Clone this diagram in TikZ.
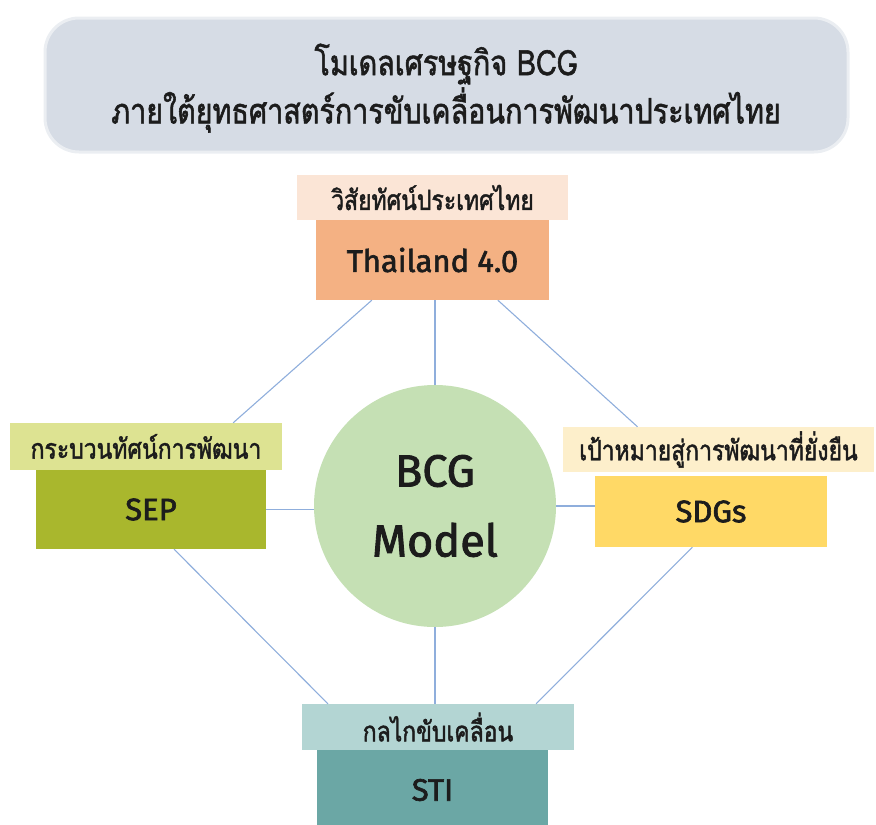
\documentclass[tikz,border=0pt]{standalone}
\usepackage{fontspec}
\setmainfont{Fira Sans}
\newfontfamily\keyfont{Fira Sans}[FakeBold=2]
\newfontfamily\thaifont[Script=Thai,FakeStretch=0.82,FakeBold=1.6]{Loma}
\usetikzlibrary{calc}

\definecolor{titlefill}{HTML}{D6DCE5}
\definecolor{titleedge}{HTML}{EBEEF2}
\definecolor{visiontag}{HTML}{FBE5D6}
\definecolor{visionfill}{HTML}{F4B183}
\definecolor{septag}{HTML}{DDE392}
\definecolor{sepfill}{HTML}{A9B72D}
\definecolor{sdgtag}{HTML}{FDEFCB}
\definecolor{sdgfill}{HTML}{FFD966}
\definecolor{stitag}{HTML}{B3D5D3}
\definecolor{stifill}{HTML}{6BA7A5}
\definecolor{corefill}{HTML}{C5E0B4}
\definecolor{linkblue}{HTML}{8FAEDC}
\definecolor{inktext}{HTML}{1C1C1C}

\begin{document}
\begin{tikzpicture}[x=1pt, y=-1pt,
	tagbox/.style={inner sep=0pt, minimum height=45pt, text=inktext,
		font=\thaifont\fontsize{28}{30}\selectfont},
	keybox/.style={inner sep=0pt, text=inktext,
		font=\keyfont\fontsize{31}{32}\selectfont},
	link/.style={draw=linkblue, line width=1.1pt}]
	\useasboundingbox (0,0) rectangle (876,825);

	% heading
	\node[draw=titleedge, line width=3pt, fill=titlefill, rounded corners=34pt,
		minimum width=803pt, minimum height=134pt] (title) at (446.5,85) {};
	\node[text=inktext, font=\thaifont\fontsize{35}{38}\selectfont] (titleA) at (446,64) {โมเดลเศรษฐกิจ BCG};
	\node[text=inktext, font=\thaifont\fontsize{35}{38}\selectfont] (titleB) at (446,110) {ภายใต้ยุทธศาสตร์การขับเคลื่อนการพัฒนาประเทศไทย};

	% centre
	\node[circle, fill=corefill, minimum size=242pt, inner sep=0pt, align=center,
		text=inktext, font=\keyfont\fontsize{45}{70}\selectfont] (core) at (435,506) {BCG\\Model};

	% four boxes
	\node[tagbox, fill=visiontag, minimum width=271pt] (visiontag) at (432.5,197.5) {วิสัยทัศน์ประเทศไทย};
	\node[keybox, fill=visionfill, minimum width=233pt, minimum height=80pt] (vision) at (432.5,260) {Thailand 4.0};

	\node[tagbox, fill=septag, minimum width=272pt, minimum height=47pt] (septag) at (146,446.5) {กระบวนทัศน์การพัฒนา};
	\node[keybox, fill=sepfill, minimum width=230pt, minimum height=79pt] (sep) at (151,509.5) {SEP};

	\node[tagbox, fill=sdgtag, minimum width=311pt] (sdgtag) at (718.5,449.5) {เป้าหมายสู่การพัฒนาที่ยั่งยืน};
	\node[keybox, fill=sdgfill, minimum width=232pt, minimum height=71pt] (sdg) at (711,511.5) {SDGs};

	\node[tagbox, fill=stitag, minimum width=272pt, minimum height=46pt] (stitag) at (438,727) {กลไกขับเคลื่อน};
	\node[keybox, fill=stifill, minimum width=231pt, minimum height=80pt] (sti) at (432.5,790) {STI};

	% links
	\draw[link] (core.north) -- (core.north |- vision.south);
	\draw[link] (core.south) -- (core.south |- stitag.north);
	\draw[link] (sep.east) -- (sep.east -| core.west);
	\draw[link] (core.east) -- (core.east -| sdg.west);
	\draw[link] ($(vision.south west)!.24!(vision.south east)$) -- ($(septag.north west)!.82!(septag.north east)$);
	\draw[link] ($(vision.south west)!.78!(vision.south east)$) -- ($(sdgtag.north west)!.24!(sdgtag.north east)$);
	\draw[link] ($(sep.south west)!.6!(sep.south east)$) -- ($(stitag.north west)!.096!(stitag.north east)$);
	\draw[link] ($(sdg.south west)!.42!(sdg.south east)$) -- ($(stitag.north west)!.86!(stitag.north east)$);
\end{tikzpicture}
\end{document}
